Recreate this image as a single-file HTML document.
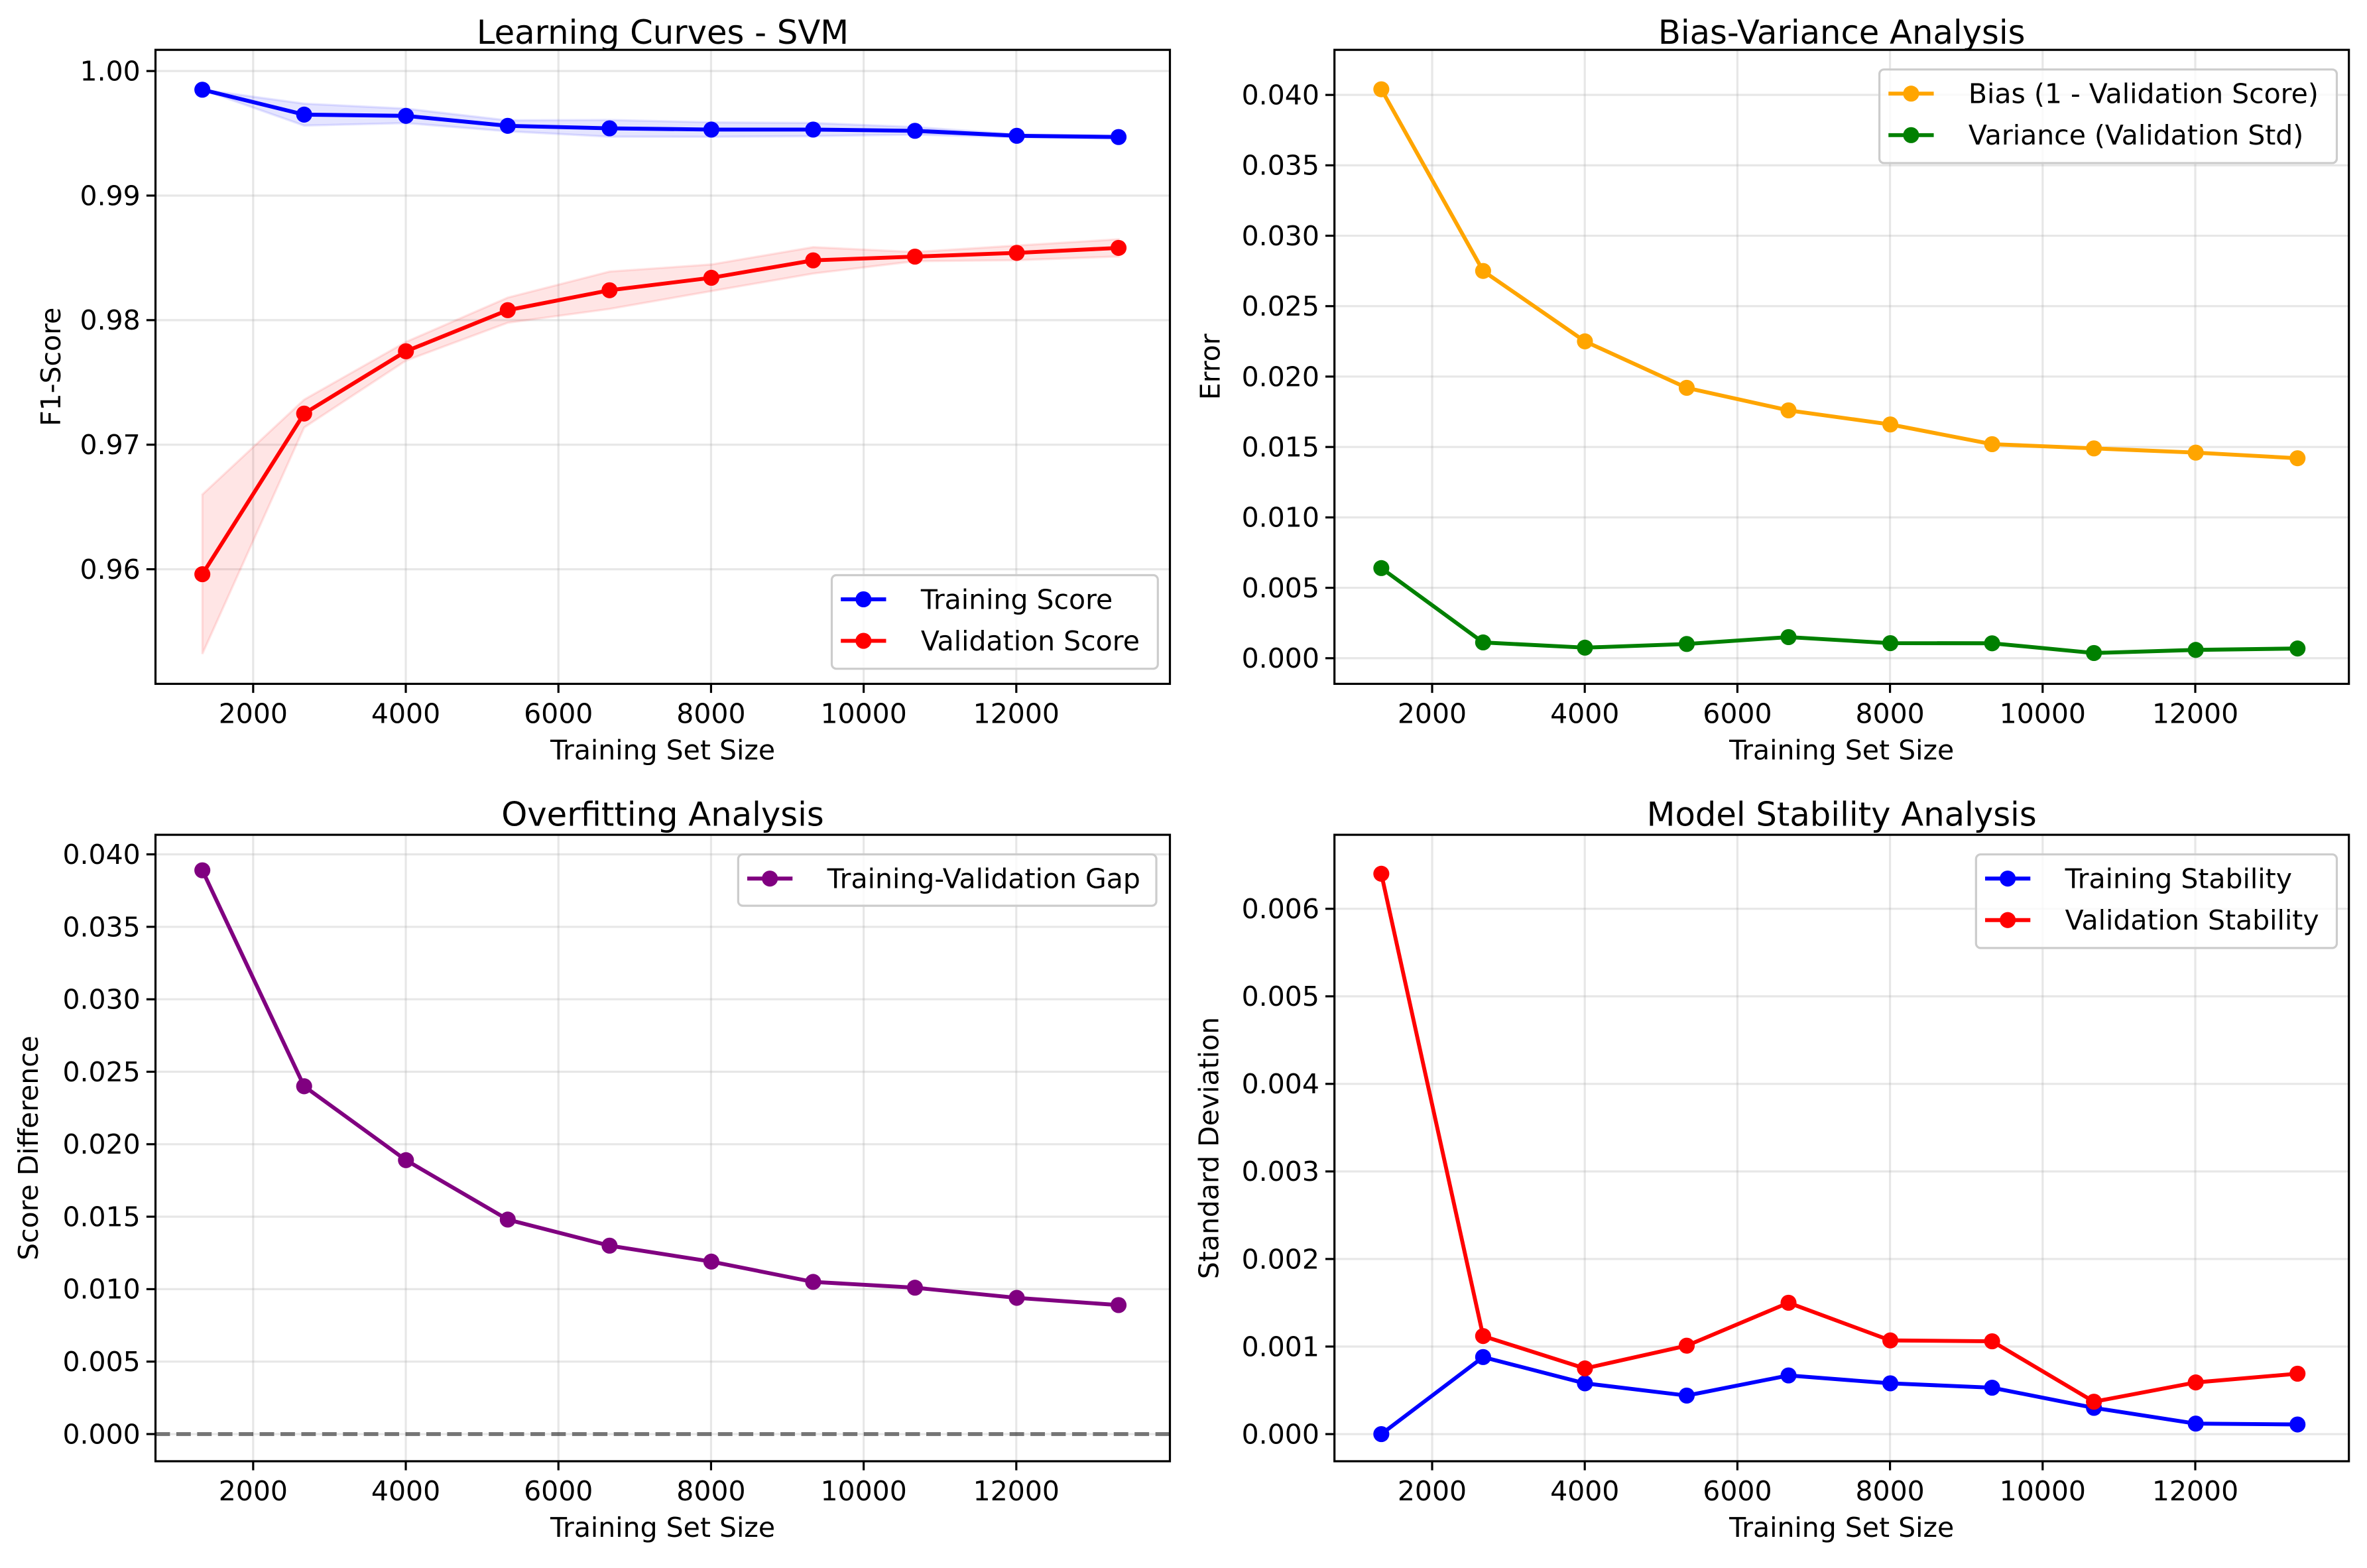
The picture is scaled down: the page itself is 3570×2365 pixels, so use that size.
<!DOCTYPE html>
<html><head><meta charset="utf-8"><style>
html,body{margin:0;padding:0;background:#fff}
svg{display:block;font-family:"DejaVu Sans","Liberation Sans",sans-serif}
</style></head><body>
<svg id="fig" width="3570" height="2365" viewBox="0 0 1568 1038.7" xmlns="http://www.w3.org/2000/svg">
<rect x="0" y="0" width="1568" height="1039" fill="#fff"/>
</svg>
<script>
const sizes=[1334,2668,4002,5336,6670,8004,9338,10672,12006,13340];
const trainMean=[0.9985,0.9965,0.9964,0.9956,0.9954,0.9953,0.9953,0.9952,0.9948,0.9947];
const valMean=[0.9596,0.9725,0.9775,0.9808,0.9824,0.9834,0.9848,0.9851,0.9854,0.9858];
const trainStd=[0.0000,0.00088,0.00058,0.00044,0.00067,0.00058,0.00053,0.00030,0.00012,0.00011];
const valStd=[0.0064,0.00112,0.00075,0.00101,0.00150,0.00107,0.00106,0.00037,0.00059,0.00069];
const xTicks=[2000,4000,6000,8000,10000,12000];
const p1Ticks=[0.96,0.97,0.98,0.99,1.00];
const errTicks=[0,0.005,0.01,0.015,0.02,0.025,0.03,0.035,0.04];
const stdTicks=[0,0.001,0.002,0.003,0.004,0.005,0.006];

const NS='http://www.w3.org/2000/svg';
const svg=document.getElementById('fig');
function mk(tag,attrs,parent){const e=document.createElementNS(NS,tag);for(const k in attrs)e.setAttribute(k,attrs[k]);(parent||svg).appendChild(e);return e;}
function txt(s,attrs,parent){const e=mk('text',attrs,parent);e.textContent=s;return e;}
const FS=18, TFS=21.8;

function panel(cfg){
  const g=mk('g',{});
  
  
  const L=cfg.x0,R=cfg.x1,T=cfg.y0,B=cfg.y1;
  const lw=cfg.lw||2.6;
  const xs=v=>L+(v-720)/(14013-720)*(R-L);
  const ys=v=>B-(v-cfg.ymin)/(cfg.ymax-cfg.ymin)*(B-T);
  xTicks.forEach(t=>{const l=mk('line',{x1:xs(t),x2:xs(t),y1:T,y2:B,stroke:'#b0b0b0','stroke-opacity':0.3,'stroke-width':1.4},g);});
  cfg.yt.forEach(t=>{const l=mk('line',{x1:L,x2:R,y1:ys(t),y2:ys(t),stroke:'#b0b0b0','stroke-opacity':0.3,'stroke-width':1.4},g);});
  (cfg.bands||[]).forEach(b=>{
    let pts=sizes.map((s,i)=>xs(s)+','+ys(b.m[i]+b.s[i]));
    pts=pts.concat(sizes.map((s,i)=>xs(s)+','+ys(b.m[i]-b.s[i])).reverse());
    const p=mk('polygon',{points:pts.join(' '),fill:b.c,'fill-opacity':0.1,stroke:b.c,'stroke-opacity':0.1,'stroke-width':1.5},g);
    
  });
  if(cfg.zero){const l=mk('line',{x1:L,x2:R,y1:ys(0),y2:ys(0),stroke:'#000','stroke-opacity':0.5,'stroke-width':2.6,'stroke-dasharray':'9.6,4.2'},g);}
  cfg.series.forEach(s=>{
    const sg=mk('g',{},g);
    
    
    mk('polyline',{points:sizes.map((v,i)=>xs(v)+','+ys(s.d[i])).join(' '),fill:'none',stroke:s.c,'stroke-width':lw,'stroke-linejoin':'round'},sg);
    sizes.forEach((v,i)=>{const c=mk('circle',{cx:xs(v),cy:ys(s.d[i]),r:5.3,fill:s.c},sg);});
  });
  const f=mk('rect',{x:L,y:T,width:R-L,height:B-T,fill:'none',stroke:'#000','stroke-width':1.4},g);
  
  xTicks.forEach(t=>{mk('line',{x1:xs(t),x2:xs(t),y1:B,y2:B+6,stroke:'#000','stroke-width':1.4},g);
    const e=txt(String(t),{x:xs(t),y:B+26,'font-size':FS,'text-anchor':'middle',fill:'#000'},g);});
  cfg.yt.forEach(t=>{mk('line',{x1:L-6,x2:L,y1:ys(t),y2:ys(t),stroke:'#000','stroke-width':1.4},g);
    const e=txt(t.toFixed(cfg.dec),{x:L-10,y:ys(t)+6.3,'font-size':FS,'text-anchor':'end',fill:'#000'},g);});
  let e=txt(cfg.title,{x:(L+R)/2,y:T-cfg.tOff,'font-size':TFS,'text-anchor':'middle'},g);
  e=txt('Training Set Size',{x:(L+R)/2,y:B+50,'font-size':FS,'text-anchor':'middle'},g);
  e=txt(cfg.ylab,{x:0,y:0,'font-size':FS,'text-anchor':'middle',transform:`translate(${cfg.ylx},${(T+B)/2}) rotate(-90)`},g);
  const lg=cfg.leg;
  const lgG=mk('g',{},g);
  mk('rect',{x:lg.x,y:lg.y,width:lg.w,height:lg.h,rx:3,fill:'#fff','fill-opacity':0.8,stroke:'#ccc','stroke-width':1.4},lgG);
  cfg.series.forEach((s,i)=>{
    const yy=lg.y+16+i*27.5;
    const eg=mk('g',{},lgG);
    mk('line',{x1:lg.x+6,x2:lg.x+36,y1:yy,y2:yy,stroke:s.c,'stroke-width':lw},eg);
    mk('circle',{cx:lg.x+21,cy:yy,r:5.3,fill:s.c},eg);
    txt(s.label,{x:lg.x+59,y:yy+6.3,'font-size':FS},eg);
  });
}
const bias=valMean.map(v=>1-v);
const gap=trainMean.map((t,i)=>t-valMean[i]);
panel({name:'learning-curves-panel',x0:103,x1:775,y0:33,y1:453,ymin:0.9508,ymax:1.0017,yt:p1Ticks,dec:2,title:'Learning Curves - SVM',ylab:'F1-Score',ylx:40,tOff:4,
  bands:[{m:trainMean,s:trainStd,c:'#0000ff',name:'training-std-band'},{m:valMean,s:valStd,c:'#ff0000',name:'validation-std-band'}],
  series:[{d:trainMean,c:'#0000ff',label:'Training Score',name:'training-score-series'},{d:valMean,c:'#ff0000',label:'Validation Score',name:'validation-score-series'}],
  leg:{x:551,y:381,w:216,h:62}});
panel({name:'bias-variance-panel',x0:884,x1:1556,y0:33,y1:453,ymin:-0.00182,ymax:0.0432,yt:errTicks,dec:3,title:'Bias-Variance Analysis',ylab:'Error',ylx:808,tOff:4,
  series:[{d:bias,c:'#ffa500',label:'Bias (1 - Validation Score)',name:'bias-series'},{d:valStd,c:'#008000',label:'Variance (Validation Std)',name:'variance-series'}],
  leg:{x:1245,y:46,w:303,h:62}});
panel({name:'overfitting-panel',x0:103,x1:775,y0:553,y1:968,ymin:-0.001875,ymax:0.04135,yt:errTicks,dec:3,title:'Overfitting Analysis',ylab:'Score Difference',ylx:25,zero:true,tOff:6,
  series:[{d:gap,c:'#800080',label:'Training-Validation Gap',name:'gap-series'}],
  leg:{x:489,y:566,w:277,h:34}});
panel({name:'stability-panel',x0:884,x1:1556,y0:553,y1:968,ymin:-0.00031,ymax:0.006845,yt:stdTicks,dec:3,title:'Model Stability Analysis',ylab:'Standard Deviation',ylx:807,tOff:6,
  series:[{d:trainStd,c:'#0000ff',label:'Training Stability',name:'training-stability-series'},{d:valStd,c:'#ff0000',label:'Validation Stability',name:'validation-stability-series'}],
  leg:{x:1309,y:566,w:239,h:62}});
</script>
</body></html>
